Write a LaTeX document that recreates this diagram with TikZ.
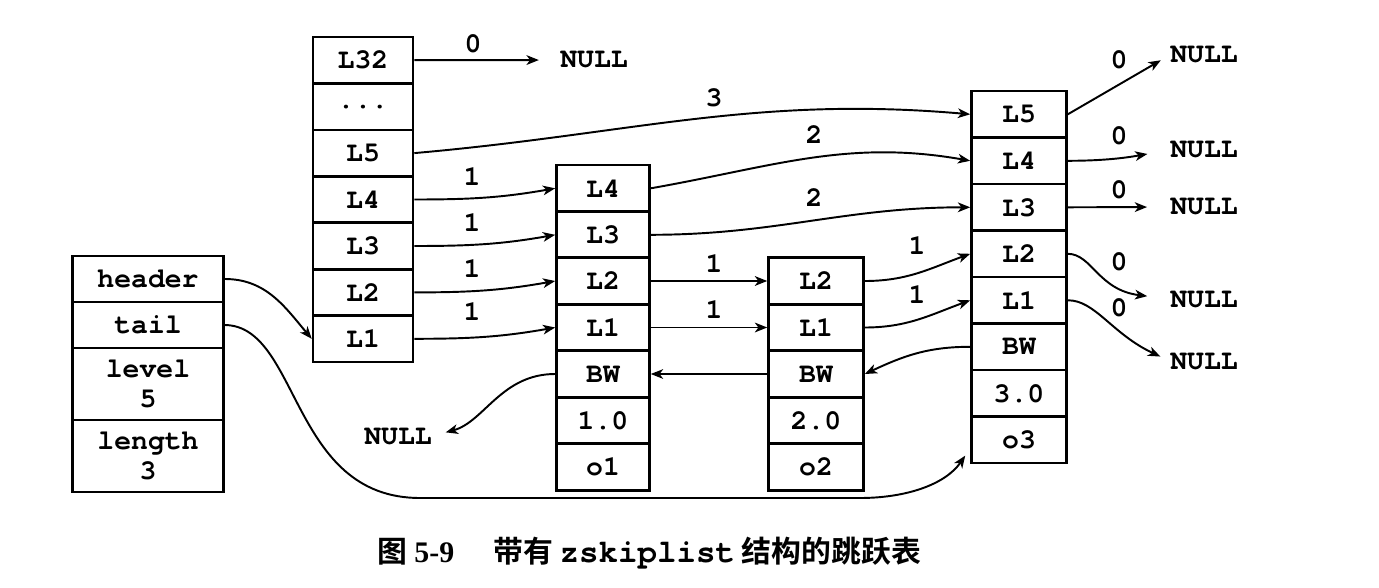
\documentclass[tikz,border=0pt]{standalone}
\usepackage{fontspec}
\setmainfont{Liberation Serif}
\setmonofont{texgyrecursor}[Extension=.otf, UprightFont=*-regular, BoldFont=*-bold]
\newfontfamily\cjk[BoldFont={* Bold}]{Noto Sans CJK SC}
\usetikzlibrary{arrows.meta}

\tikzset{
	cell/.style={draw, line width=1.5pt, minimum height=0.93cm, inner sep=0pt, font=\fontsize{16}{17}\selectfont\ttfamily\bfseries},
	hcell/.style={cell, minimum width=2cm},
	acell/.style={cell, minimum width=1.86cm},
	bcell/.style={cell, minimum width=1.9cm},
	zcell/.style={cell, minimum width=3.02cm, align=center},
	link/.style={-{Stealth[length=7pt,width=5.5pt,inset=2pt]}, line width=1.1pt},
	lbl/.style={inner sep=0pt, font=\fontsize{16}{17}\selectfont\ttfamily\bfseries},
	nul/.style={inner sep=0pt, font=\fontsize{16}{17}\selectfont\ttfamily\bfseries},
}

\begin{document}
\begin{tikzpicture}[x=0.02cm,y=0.02cm]
				\useasboundingbox (0,0) rectangle (1379,-588);
				\node[zcell, minimum height=0.92cm] (zhead) at (148,-279) {header};
				\node[zcell, minimum height=0.92cm] (ztail) at (148,-325) {tail};
				\node[zcell, minimum height=1.44cm] (zlevel) at (148,-384) {level\\5};
				\node[zcell, minimum height=1.44cm] (zlength) at (148,-456) {length\\3};
				\node[hcell] (hL32) at (363,-60.2){L32};
				\node[hcell] (hdots) at (363,-106.6){...};
				\node[hcell] (hL5) at (363,-153.1){L5};
				\node[hcell] (hL4) at (363,-199.5){L4};
				\node[hcell] (hL3) at (363,-246){L3};
				\node[hcell] (hL2) at (363,-292.4){L2};
				\node[hcell] (hL1) at (363,-338.8){L1};
				\node[acell] (aL4) at (603,-188.3){L4};
				\node[acell] (aL3) at (603,-234.8){L3};
				\node[acell] (aL2) at (603,-281){L2};
				\node[acell] (aL1) at (603,-327.5){L1};
				\node[acell] (aBW) at (603,-374){BW};
				\node[acell] (ascore) at (603,-420.5){1.0};
				\node[acell] (aobj) at (603,-467){o1};
				\node[bcell] (bL2) at (816,-281){L2};
				\node[bcell] (bL1) at (816,-327.5){L1};
				\node[bcell] (bBW) at (816,-374){BW};
				\node[bcell] (bscore) at (816,-420.5){2.0};
				\node[bcell] (bobj) at (816,-467){o2};
				\node[bcell] (cL5) at (1019,-114.3){L5};
				\node[bcell] (cL4) at (1019,-160.8){L4};
				\node[bcell] (cL3) at (1019,-207.3){L3};
				\node[bcell] (cL2) at (1019,-253.8){L2};
				\node[bcell] (cL1) at (1019,-300.3){L1};
				\node[bcell] (cBW) at (1019,-346.8){BW};
				\node[bcell] (cscore) at (1019,-393.3){3.0};
				\node[bcell] (cobj) at (1019,-439.8){o3};
				\node[nul] (null6) at (594,-60){NULL};
				\node[nul] (null0) at (398,-436){NULL};
				\node[nul] (null5) at (1204,-55){NULL};
				\node[nul] (null4) at (1204,-150){NULL};
				\node[nul] (null3) at (1204,-207){NULL};
				\node[nul] (null2) at (1204,-299){NULL};
				\node[nul] (null1) at (1204,-361){NULL};
				\node[lbl] (w32) at (473,-44){0};
				\node[lbl] (wh5) at (714,-98){3};
				\node[lbl] (wa4) at (814,-135){2};
				\node[lbl] (wa3) at (814,-198){2};
				\node[lbl] (wh4) at (472,-177){1};
				\node[lbl] (wh3) at (472,-223){1};
				\node[lbl] (wh2) at (472,-269){1};
				\node[lbl] (wh1) at (472,-312){1};
				\node[lbl] (wa2) at (714,-264){1};
				\node[lbl] (wa1) at (714,-310){1};
				\node[lbl] (wb2) at (917,-246){1};
				\node[lbl] (wb1) at (917,-295){1};
				\node[lbl] (wc5) at (1119,-60){0};
				\node[lbl] (wc4) at (1119,-136){0};
				\node[lbl] (wc3) at (1119,-190){0};
				\node[lbl] (wc2) at (1119,-262){0};
				\node[lbl] (wc1) at (1119,-308){0};
				\node (cap) at (649.5,-553){\fontsize{17}{20}\selectfont\cjk\bfseries 图 \textbf{\rmfamily 5-9}\hspace{1.3em}带有 {\fontsize{18.5}{20}\selectfont\ttfamily\bfseries zskiplist} 结构的跳跃表};
				\draw[link] (zhead.east) to[out=0,in=130] (hL1.west);
				\draw[link, shorten >=5pt] (ztail.east) .. controls (300,-326) and (290,-498) .. (420,-498) -- (860,-498) .. controls (905,-498) and (945,-485) .. (cobj.190);
				\draw[link, shorten >=12pt] (hL32.east) -- (null6.west);
				\draw[link] (hL5.east) to[out=5,in=175] (cL5.west);
				\draw[link] (hL4.east) to[out=0,in=190] (aL4.west);
				\draw[link] (hL3.east) to[out=0,in=190] (aL3.west);
				\draw[link] (hL2.east) to[out=0,in=190] (aL2.west);
				\draw[link] (hL1.east) to[out=0,in=190] (aL1.west);
				\draw[link] (aL4.east) to[out=10,in=170] (cL4.west);
				\draw[link] (aL3.east) to[out=0,in=180] (cL3.west);
				\draw[link] (aL2.east) -- (bL2.west);
				\draw[link] (aL1.east) -- (bL1.west);
				\draw[link] (bL2.east) to[out=0,in=200] (cL2.west);
				\draw[link] (bL1.east) to[out=0,in=200] (cL1.west);
				\draw[link] (cBW.west) to[out=180,in=25] (bBW.east);
				\draw[link] (bBW.west) -- (aBW.east);
				\draw[link, shorten >=8pt] (aBW.west) to[out=180,in=15] (null0.east);
				\draw[link, shorten >=6pt] (cL5.east) -- (null5.west);
				\draw[link, shorten >=13pt] (cL4.east) to[out=0,in=190] (null4.west);
				\draw[link, shorten >=13pt] (cL3.east) -- (null3.west);
				\draw[link, shorten >=13pt] (cL2.east) .. controls (1092,-254) and (1098,-290) .. (null2.west);
				\draw[link, shorten >=6pt] (cL1.east) .. controls (1095,-300) and (1112,-334) .. (null1.west);
			\end{tikzpicture}
\end{document}
